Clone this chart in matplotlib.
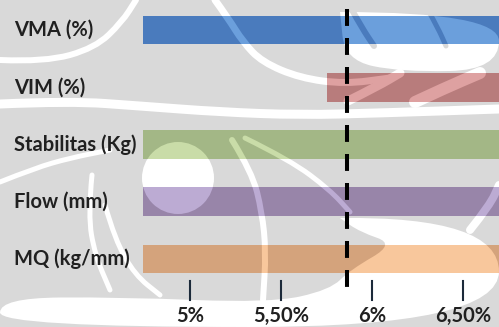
import numpy as np
import matplotlib
matplotlib.use('Agg')
import matplotlib.pyplot as plt
from matplotlib.path import Path
from matplotlib.patches import PathPatch, Circle
from matplotlib.transforms import Affine2D

# chart values
categories = ['VMA (%)', 'VIM (%)', 'Stabilitas (Kg)', 'Flow (mm)', 'MQ (kg/mm)']
range_start = [4.74, 5.75, 4.74, 4.74, 4.74]
range_end = [7.0, 7.0, 7.0, 7.0, 7.0]
tick_values = [5.0, 5.5, 6.0, 6.5]
tick_labels = ['5%', '5,50%', '6%', '6,50%']
optimum = 5.86

# bar colours: (on grey, on white)
bar_colors = [('#4a7bbd', '#6b9fdc'),
              ('#b87c7c', '#dea1a1'),
              ('#a3b786', '#c9dca8'),
              ('#9885a9', '#bcabd3'),
              ('#d4a37c', '#f8c79c')]

W, H = 499, 327
BG = '#d9d9d9'

# background ornament, in pixels from the top-left corner
ornament = [
    ('line', 'w', 6, [(0, 60), (45, 62), (95, 48), (122, 22), (136, 0)]),
    ('poly', 'w', 0, [(340, 12), (499, 12), (499, 70), (400, 72), (345, 60)]),
    ('line', 'g', 6, [(352, 10), (362, 28), (374, 46)]),
    ('line', 'g', 5, [(428, 10), (438, 28), (446, 46)]),
    ('line', 'w', 7, [(215, 0), (228, 18), (243, 42), (262, 62), (300, 78), (345, 84), (390, 78)]),
    ('line', 'w', 9, [(0, 104), (70, 101), (140, 106), (220, 112), (300, 115), (380, 113), (499, 109)]),
    ('line', 'w', 9, [(348, 101), (378, 86), (400, 73)]),
    ('line', 'w', 12, [(415, 102), (445, 88), (480, 73)]),
    ('circle', 'w', 36, [(178, 178)]),
    ('line', 'w', 5, [(105, 205), (115, 240), (135, 275), (160, 295)]),
    ('line', 'w', 6, [(232, 140), (252, 172), (262, 212), (266, 252), (263, 300)]),
    ('line', 'w', 5, [(245, 138), (290, 160), (330, 190), (350, 212)]),
    ('poly', 'w', 0, [(340, 218), (499, 216), (499, 327), (0, 327), (0, 298), (120, 297),
                      (270, 303), (330, 290), (350, 270), (395, 244), (360, 232)]),
    ('line', 'w', 8, [(470, 230), (490, 205), (499, 185)]),
    ('line', 'w', 5, [(0, 182), (35, 168), (70, 158), (110, 150)]),
    ('line', 'w', 5, [(92, 175), (88, 215), (95, 255), (110, 290)]),
]


def smooth_path(pts, closed=False):
    pts = list(pts)
    if closed:
        pts = pts + [pts[0]]
    verts = [pts[0]]
    codes = [Path.MOVETO]
    for i in range(1, len(pts) - 1):
        mid = ((pts[i][0] + pts[i + 1][0]) / 2, (pts[i][1] + pts[i + 1][1]) / 2)
        verts += [pts[i], mid]
        codes += [Path.CURVE3, Path.CURVE3]
    verts.append(pts[-1])
    codes.append(Path.LINETO)
    return Path(verts, codes)


def ornament_artists(white, grey, pix):
    out = []
    for kind, tone, size, pts in ornament:
        c = white if tone == 'w' else grey
        if kind == 'line':
            a = PathPatch(smooth_path(pts), fill=False, edgecolor=c,
                          lw=size * 72 / 100, capstyle='round', transform=pix)
        elif kind == 'poly':
            a = PathPatch(smooth_path(pts, closed=True), facecolor=c, edgecolor='none',
                          transform=pix)
        else:
            a = Circle(pts[0], size, facecolor=c, edgecolor='none', transform=pix)
        out.append(a)
    return out


fig = plt.figure(figsize=(W / 100, H / 100), dpi=100, facecolor=BG)
ax = fig.add_axes([0, 0, 1, 1])
ax.patch.set_visible(False)
ax.axis('off')

# 5% sits at x=190 px, 0.5% spans 91 px; rows are 57.25 px apart from y=30 px
px_per_unit = 182.0
ax.set_xlim(5.0 - 190 / px_per_unit, 5.0 + (W - 190) / px_per_unit)
row = 57.25
ax.set_ylim((H - 30) / row, -30 / row)

pix = Affine2D().scale(1, -1).translate(0, H)

for a in ornament_artists('white', BG, pix):
    a.set_zorder(0.5)
    ax.add_patch(a)

ypos = np.arange(len(categories))
widths = [e - s for s, e in zip(range_start, range_end)]
bars = ax.barh(ypos, widths, left=range_start, height=0.5,
               color=[c[0] for c in bar_colors], zorder=2)

# ornament shows through the bars as a lighter tint
for bar, (dark, light) in zip(bars, bar_colors):
    for a in ornament_artists(light, dark, pix):
        a.set_zorder(2.5)
        ax.add_patch(a)
        a.set_clip_path(bar)

ax.plot([optimum, optimum], [-0.37, 4.58], color='black', lw=2.9,
        dashes=(4.2, 3.0), zorder=4)

for i, name in enumerate(categories):
    ax.text(5.0 - 176 / px_per_unit, i, name, ha='left', va='center',
            fontsize=14.5, fontweight='bold', family='Lato', color='#202020', zorder=5)

for v, lab in zip(tick_values, tick_labels):
    ax.plot([v, v], [4.38, 4.72], color='#1c2a3a', lw=1.5, zorder=5)
    ax.text(v, 5.0, lab, ha='center', va='center', fontsize=14.5,
            fontweight='bold', family='Lato', color='#202020', zorder=5)

fig.savefig('out.png', dpi=100, facecolor=BG)
